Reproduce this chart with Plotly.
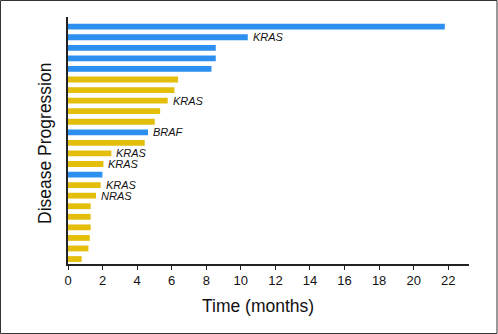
import plotly.graph_objects as go

# Data (top to bottom)
months = [21.8, 10.4, 8.55, 8.55, 8.3, 6.37, 6.16, 5.77, 5.33, 5.02, 4.63, 4.44,
          2.51, 2.05, 1.99, 1.89, 1.62, 1.31, 1.31, 1.31, 1.26, 1.18, 0.79]
groups = ["blue"] * 5 + ["yellow"] * 5 + ["blue"] + ["yellow"] * 3 + ["blue"] + ["yellow"] * 8
mutations = ["", "KRAS", "", "", "", "", "", "KRAS", "", "", "BRAF", "",
             "KRAS", "KRAS", "", "KRAS", "NRAS", "", "", "", "", "", ""]
x_ticks = list(range(0, 23, 2))
x_title = "Time (months)"
y_title = "Disease Progression"

color_map = {"blue": "#2D8FF0", "yellow": "#E3BE0A"}
positions = list(range(len(months)))

fig = go.Figure()
fig.add_trace(go.Bar(
    x=months, y=positions, orientation="h",
    marker=dict(color=[color_map[g] for g in groups], line=dict(width=0)),
    width=0.55,
    hoverinfo="skip",
))

W, H = 498, 334
ml, mr, mt, mb = 68, 29, 17, 70
pw, ph = W - ml - mr, H - mt - mb
title_font = dict(family="Liberation Sans, Arial, sans-serif", size=17.5, color="#111")

annotations = [
    dict(x=m, y=p, text=t, xref="x", yref="y", xanchor="left", yanchor="middle",
         xshift=3, showarrow=False,
         font=dict(family="Liberation Sans, Arial, sans-serif", size=11, color="#111", style="italic"))
    for m, p, t in zip(months, positions, mutations) if t
]
annotations.append(dict(
    x=(258 - ml) / pw, y=-(306 - (mt + ph)) / ph, xref="paper", yref="paper",
    xanchor="center", yanchor="middle", showarrow=False, text=x_title, font=title_font,
))
annotations.append(dict(
    x=(45 - ml) / pw, y=((mt + ph) - 144) / ph, xref="paper", yref="paper",
    xanchor="center", yanchor="middle", showarrow=False, text=y_title, textangle=-90,
    font=title_font,
))

fig.update_layout(
    width=W, height=H,
    margin=dict(l=ml, r=mr, t=mt, b=mb, pad=0, autoexpand=False),
    paper_bgcolor="white", plot_bgcolor="white",
    showlegend=False,
    font=dict(family="Liberation Sans, Arial, sans-serif", color="#111"),
    annotations=annotations,
    xaxis=dict(
        range=[0, 23.2], tickvals=x_ticks, ticks="outside", ticklen=4, tickwidth=1,
        tickcolor="#222", showline=True, linecolor="#222", linewidth=1.5,
        showgrid=False, zeroline=False, tickfont=dict(size=13), automargin=False,
    ),
    yaxis=dict(
        range=[22.47, -0.92], showticklabels=False, ticks="", showline=True,
        linecolor="#222", linewidth=2, showgrid=False, zeroline=False, automargin=False,
    ),
    shapes=[dict(
        type="rect", xref="paper", yref="paper",
        x0=(0.5 - ml) / pw, x1=(W - 1.0 - ml) / pw,
        y0=-(mb - 0.5) / ph, y1=1 + (mt - 0.5) / ph,
        line=dict(color="#333", width=1), fillcolor="rgba(0,0,0,0)", layer="above",
    )],
)

fig.write_html("out.html", config={"displayModeBar": False, "staticPlot": True},
               post_script="document.body.style.margin='0';document.body.style.padding='0';")
